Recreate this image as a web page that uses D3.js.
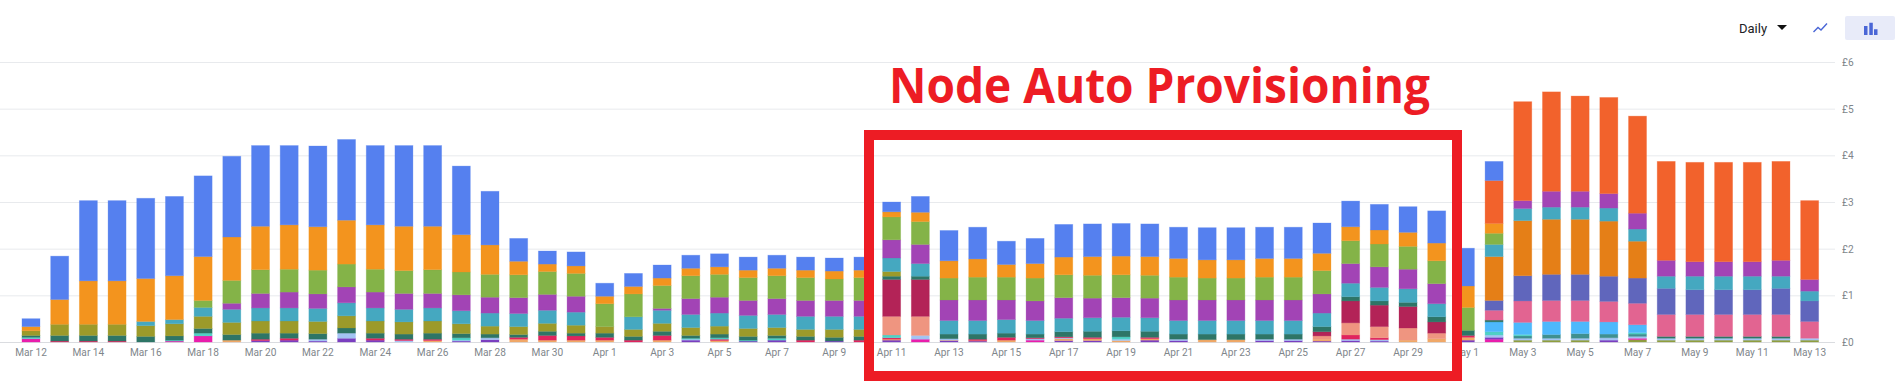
<!DOCTYPE html>
<html><head><meta charset="utf-8">
<script src="https://cdnjs.cloudflare.com/ajax/libs/d3/7.8.5/d3.min.js"></script>
<style>html,body{margin:0;padding:0;background:#fff;overflow:hidden}svg{display:block}</style>
</head><body><svg id="c" width="1901" height="385"></svg>
<script>
const days = ["Mar 12","Mar 13","Mar 14","Mar 15","Mar 16","Mar 17","Mar 18","Mar 19","Mar 20","Mar 21",
"Mar 22","Mar 23","Mar 24","Mar 25","Mar 26","Mar 27","Mar 28","Mar 29","Mar 30","Mar 31",
"Apr 1","Apr 2","Apr 3","Apr 4","Apr 5","Apr 6","Apr 7","Apr 8","Apr 9","Apr 10",
"Apr 11","Apr 12","Apr 13","Apr 14","Apr 15","Apr 16","Apr 17","Apr 18","Apr 19","Apr 20",
"Apr 21","Apr 22","Apr 23","Apr 24","Apr 25","Apr 26","Apr 27","Apr 28","Apr 29","Apr 30",
"May 1","May 2","May 3","May 4","May 5","May 6","May 7","May 8","May 9","May 10",
"May 11","May 12","May 13"];
const tickDays = days.filter((d,i)=>i%2===0);
const yTicks = [0,1,2,3,4,5,6];

const oliveSmall = [0,0,0,0,0,0,0,0,0,0, 0,0,0,0,0,0,0,0,0,0, 0,0,0,0,0,0,0,0,0,0, 0,0,0,0,0,0,0,0,0,0, 0,0,0,0,0,0,0,0,0,0, 0,0,.04,.04,.04,0,.05,.04,.04,.04, .04,.04,.04];
const magenta = [.07,0,0,0,0,.02,.13,0,0,0, 0,0,0,0,0,0,0,0,0,0, 0,0,0,0,0,0,0,0,0,0, 0,.06,0,0,0,.04,0,0,0,0, 0,0,0,0,0,0,0,0,0,0, 0,.06,0,0,0,0,.03,0,0,0, 0,0,0];
const violet = [0,0,0,0,0,0,0,0,.03,.04, .02,.08,.04,0,0,.02,.05,0,0,0, 0,0,0,.04,0,.02,.04,0,.02,0, .04,0,.03,.02,0,0,.03,.03,0,.04, .03,0,0,.03,.03,.02,.03,.02,0,0, .04,.04,0,0,0,.04,0,0,0,0, 0,0,0];
const tan = [0,0,0,0,0,0,0,.04,0,0, 0,0,0,0,.03,0,0,.06,.04,.04, .04,0,.04,0,.03,0,0,0,0,0, .02,0,.01,.01,.04,0,.04,.04,.03,.03, 0,.05,.05,0,0,.04,0,0,.04,.07, .06,0,0,0,0,0,0,0,0,0, 0,0,0];
const paleBlue = [0,0,0,0,0,0,0,0,0,0, .04,.11,0,.03,0,.02,.04,0,0,0, 0,0,0,.02,0,0,0,0,0,0, 0,.08,.03,0,0,.03,.02,0,.03,0, .03,0,0,.03,.03,0,.03,.03,0,0, 0,.05,.04,.04,.04,.05,.04,.04,.04,.04, .04,.04,.04];
const seaGreen = [0,0,0,0,0,0,0,0,0,0, 0,0,0,0,0,0,0,0,0,0, 0,0,0,0,0,0,0,0,0,0, 0,0,0,0,0,0,0,0,0,0, 0,0,0,0,0,0,0,0,0,0, 0,0,.05,.08,.10,.08,.05,0,0,0, 0,0,0];
const red = [0,.02,.02,.02,0,0,0,0,.03,.04, 0,0,.04,.03,.03,0,0,.04,.10,.09, .06,.04,.10,0,.03,0,0,.04,0,.04, .03,0,0,.03,.06,.02,.02,.03,0,.03, 0,0,0,0,0,0,.09,.04,0,0, .04,0,0,0,0,0,0,0,0,0, 0,0,0];
const aqua = [.03,0,0,0,0,.02,.06,0,0,0, 0,0,0,0,0,.05,0,0,0,0, 0,0,0,.02,.03,.02,.04,0,0,0, .06,0,0,0,0,0,0,0,.05,0, 0,0,0,0,0,0,0,0,0,0, 0,.07,.03,0,0,0,.03,0,0,0, 0,0,0];
const sky = [0,0,0,0,0,0,0,0,0,0, 0,0,0,0,0,0,0,0,0,0, 0,0,0,0,0,0,0,0,0,0, 0,0,0,0,0,0,0,0,0,0, 0,0,0,0,0,0,0,0,0,0, 0,.21,.26,.28,.26,.26,.17,0,0,0, 0,0,0];
const salmon = [0,0,0,0,0,0,0,0,0,0, 0,0,0,0,0,0,0,0,0,0, 0,0,0,0,0,0,0,0,0,0, .40,.41,0,0,0,0,0,0,0,0, 0,0,0,0,0,.07,.26,.24,.26,.12, 0,0,0,0,0,0,0,0,0,0, 0,0,0];
const crimson = [0,0,0,0,0,0,0,0,0,0, 0,0,0,0,0,0,0,0,0,0, 0,0,0,0,0,0,0,0,0,0, .79,.79,0,0,0,0,0,0,0,0, 0,0,0,0,0,.09,.47,.46,.46,.24, 0,0,0,0,0,0,0,0,0,0, 0,0,0];
const darkGreen = [.04,.12,.12,.12,.12,.09,.10,.12,.13,.11, .12,.11,.11,.11,.13,.09,.08,.06,.09,.06, .09,.08,.09,.06,.08,.08,.06,.08,.08,.08, .07,.07,.10,.11,.09,.08,.11,.13,.13,.13, .11,.12,.12,.11,.11,.11,.09,.09,.09,.11, .11,.04,0,0,0,0,0,.04,.04,.04, .04,.04,0];
const olive = [.10,.24,.24,.24,.23,.26,.26,.26,.26,.26, .26,.26,.26,.26,.26,.21,.17,.17,.17,.17, .14,.15,.17,.17,.17,.17,.17,.15,.17,.15, .10,0,0,0,0,0,0,0,0,0, 0,0,0,0,0,0,0,0,0,0, 0,0,0,0,0,0,0,0,0,0, 0,0,0];
const pink = [0,0,0,0,0,0,0,0,0,0, 0,0,0,0,0,0,0,0,0,0, 0,0,0,0,0,0,0,0,0,0, 0,0,0,0,0,0,0,0,0,0, 0,0,0,0,0,0,0,0,0,0, 0,.21,.46,.45,.45,.44,.46,.47,.47,.47, .47,.47,.36];
const indigo = [0,0,0,0,0,0,0,0,0,0, 0,0,0,0,0,0,0,0,0,0, 0,0,0,0,0,0,0,0,0,0, 0,0,0,0,0,0,0,0,0,0, 0,0,0,0,0,0,0,0,0,0, 0,.21,.54,.56,.56,.54,.54,.56,.53,.53, .53,.56,.44];
const amber = [0,0,0,0,0,0,0,0,0,0, 0,0,0,0,0,0,0,0,0,0, 0,0,0,0,0,0,0,0,0,0, 0,0,0,0,0,0,0,0,0,0, 0,0,0,0,0,0,0,0,0,0, 0,.94,1.18,1.18,1.18,1.18,.79,0,0,0, 0,0,0];
const teal = [0,0,0,0,.09,.09,.19,.28,.28,.28, .28,.28,.28,.27,.28,.28,.28,.28,.28,.28, 0,.27,.28,.28,.28,.28,.28,.28,.28,.28, .29,.27,.29,.29,.29,.29,.29,.29,.29,.29, .29,.29,.29,.29,.29,.29,.29,.29,.29,.28, 0,.26,.26,.26,.26,.28,.26,.26,.29,.29, .29,.26,.21];
const purple = [0,0,0,0,0,0,0,.13,.31,.34, .31,.34,.34,.34,.31,.34,.34,.34,.34,.34, 0,0,.04,.34,.34,.32,.34,.34,.34,.34, .39,.41,.44,.44,.42,.42,.44,.42,.42,.42, .44,.44,.44,.44,.44,.41,.42,.44,.42,.43, 0,0,.17,.34,.34,.31,.34,.34,.31,.31, .31,.34,.25];
const green = [0,0,0,0,0,0,.15,.49,.51,.49, .51,.49,.49,.49,.51,.49,.49,.49,.49,.49, .49,.49,.49,.49,.49,.49,.49,.49,.46,.49, .49,.49,.47,.49,.49,.49,.49,.49,.49,.49, .49,.47,.47,.49,.49,.50,.49,.49,.49,.49, .49,.24,0,0,0,0,0,0,0,0, 0,0,0];
const orange = [.09,.53,.93,.93,.92,.94,.94,.93,.93,.95, .93,.94,.95,.95,.93,.80,.63,.29,.16,.16, .16,.16,.16,.16,.16,.16,.16,.16,.17,.16, .11,.20,.37,.39,.27,.31,.38,.40,.40,.40, .40,.39,.39,.40,.40,.37,.30,.30,.30,.38, .46,.21,0,0,0,0,0,0,0,0, 0,0,0];
const vermilion = [0,0,0,0,0,0,0,0,0,0, 0,0,0,0,0,0,0,0,0,0, 0,0,0,0,0,0,0,0,0,0, 0,0,0,0,0,0,0,0,0,0, 0,0,0,0,0,0,0,0,0,0, 0,.92,2.12,2.13,2.04,2.06,2.08,2.12,2.13,2.13, 2.13,2.12,1.69];
const blue = [.17,.93,1.72,1.72,1.72,1.70,1.73,1.73,1.73,1.70, 1.73,1.73,1.70,1.73,1.73,1.47,1.15,.49,.28,.30, .28,.28,.28,.28,.28,.28,.28,.28,.28,.28, .21,.34,.65,.68,.50,.54,.70,.70,.70,.70, .67,.69,.69,.67,.67,.65,.55,.55,.55,.69, .81,.41,0,0,0,0,0,0,0,0, 0,0,0];

const seriesValues = {oliveSmall,magenta,violet,tan,paleBlue,seaGreen,red,aqua,sky,salmon,crimson,darkGreen,olive,pink,indigo,amber,teal,purple,green,orange,vermilion,blue};
const seriesColors = {oliveSmall:"#8f9e3f",magenta:"#e91eac",violet:"#7a3fc0",tan:"#f0a868",paleBlue:"#a3c4f3",seaGreen:"#3f9090",red:"#e0245e",aqua:"#4fd1c5",sky:"#4db8fc",salmon:"#ef9580",crimson:"#b32357",darkGreen:"#2e7566",olive:"#9c9a2a",pink:"#e26491",indigo:"#6066bc",amber:"#e57f17",teal:"#45a8c0",purple:"#a244b5",green:"#84b348",orange:"#f3941e",vermilion:"#f2622c",blue:"#5580ef"};
const keys = Object.keys(seriesValues);
const table = days.map((d,i)=>{const r={day:d};keys.forEach(k=>r[k]=seriesValues[k][i]);return r;});

const svg = d3.select("#c");
const x = d3.scaleBand().domain(days).range([16.65,1824]).paddingInner(.372).paddingOuter(.186);
const y = d3.scaleLinear().domain([0,6]).range([342,62]);
const FONT = "Roboto, Arial, sans-serif";

// gridlines
svg.append("g").selectAll("line").data(yTicks).join("line")
  .attr("x1",0).attr("x2",1835).attr("y1",d=>y(d)+.5).attr("y2",d=>y(d)+.5)
  .attr("stroke",d=>d===0?"#dadce0":"#e8eaed").attr("stroke-width",1);

// bars
const stacked = d3.stack().keys(keys)(table);
svg.append("g").selectAll("g").data(stacked).join("g")
  .attr("fill",s=>seriesColors[s.key]).attr("stroke",s=>seriesColors[s.key]).attr("stroke-opacity",.35).attr("stroke-width",.8)
  .selectAll("rect").data(s=>s.filter(p=>p[1]>p[0])).join("rect")
  .attr("x",p=>x(p.data.day)).attr("width",x.bandwidth())
  .attr("y",p=>y(p[1])).attr("height",p=>y(p[0])-y(p[1]));

// axes
function styleLabels(sel){
  sel.selectAll("text").attr("fill","#80868b").attr("font-family",FONT).attr("font-size",11)
    .each(function(){this.setAttribute("textLength",(this.getComputedTextLength()*.92).toFixed(1));this.setAttribute("lengthAdjust","spacingAndGlyphs");});
}
const xAxis = svg.append("g").attr("transform","translate(0,342)")
  .call(d3.axisBottom(x).tickValues(tickDays).tickSize(0).tickPadding(6));
xAxis.select(".domain").remove();
styleLabels(xAxis);

const yAxis = svg.append("g").attr("transform","translate(1835,0)")
  .call(d3.axisRight(y).tickValues(yTicks).tickFormat(d=>"£"+d).tickSize(0).tickPadding(7));
yAxis.select(".domain").remove();
styleLabels(yAxis);

// header controls
svg.append("text").attr("x",1739).attr("y",33).text("Daily").attr("font-family",FONT).attr("font-size",13).attr("fill","#202124");
svg.append("path").attr("d","M1777 25L1787 25L1782 30Z").attr("fill","#111");
svg.append("path").attr("d","M1813.5 32L1818 27.5L1821 30L1827 23.5").attr("fill","none").attr("stroke","#4a66d6").attr("stroke-width",1.4);
svg.append("rect").attr("x",1845).attr("y",16).attr("width",50).attr("height",24).attr("rx",2).attr("fill","#e8ebf9");
svg.append("path").attr("d","M1864 26h3.5v9h-3.5zM1869.3 22.7h3.5v12.3h-3.5zM1874 29.3h3.5v5.7h-3.5z").attr("fill","#4a66d6");

// annotation
svg.append("rect").attr("x",869).attr("y",135).attr("width",588).attr("height",241).attr("fill","none").attr("stroke","#ed1c24").attr("stroke-width",10);
svg.append("text").attr("x",889).attr("y",103).text("Node Auto Provisioning")
  .attr("font-family","'Open Sans', sans-serif").attr("font-weight",700).attr("font-size",49).attr("fill","#ed1c24")
  .attr("textLength",541).attr("lengthAdjust","spacingAndGlyphs");
</script></body></html>
